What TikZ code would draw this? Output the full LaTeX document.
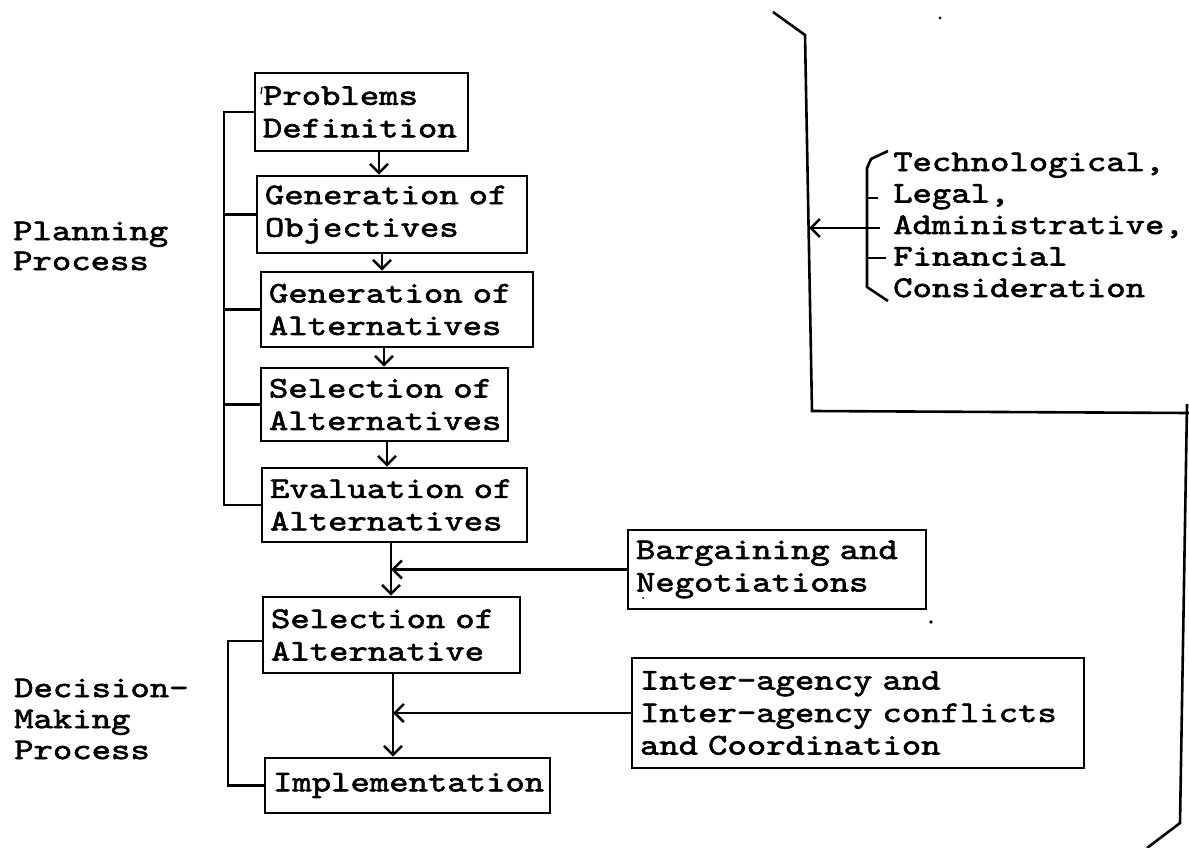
\documentclass[tikz,border=0pt]{standalone}
\usepackage{fontspec}
\setmonofont{lmmono10-regular.otf}[FakeStretch=1.23,FakeBold=2]
\usetikzlibrary{arrows.meta,calc}
\newcommand{\twfont}[1]{\ttfamily\fontsize{30}{#1}\selectfont}
\begin{document}
\begin{tikzpicture}[x=1pt,y=-1pt,
  every node/.style={font=\twfont{32.5}},
  ln/.style={line width=2.6pt},
  box/.style={draw,ln,inner xsep=8pt,inner ysep=0pt,align=left,anchor=center},
  arr/.style={ln,-{Straight Barb[length=9pt,width=18pt,line width=2.6pt]}},
  lbl/.style={inner sep=0pt,align=left,anchor=west}]
\useasboundingbox (0,0) rectangle (1189,848);

% main chain
\node[box,minimum width=213pt,minimum height=78pt,text width=197pt] (b1) at (361.5,112) {Problems\\Definition};
\node[box,minimum width=270pt,minimum height=77pt,text width=254pt] (b2) at (392,214.5) {Generation of\\Objectives};
\node[box,minimum width=272pt,minimum height=75pt,text width=256pt] (b3) at (397,309.5) {Generation of\\Alternatives};
\node[box,minimum width=247pt,minimum height=73pt,text width=231pt] (b4) at (384.5,404.5) {Selection of\\Alternatives};
\node[box,minimum width=265pt,minimum height=74pt,text width=249pt] (b5) at (394.5,505) {Evaluation of\\Alternatives};
\node[box,minimum width=257pt,minimum height=76pt,text width=241pt] (b6) at (391.5,635) {Selection of\\Alternative};
\node[box,minimum width=285pt,minimum height=55pt,text width=269pt] (b7) at (407.5,785.5) {Implementation};

% side boxes
\node[box,minimum width=298pt,minimum height=79pt,text width=282pt] (bar) at (777,569.5) {Bargaining and\\Negotiations};
\node[box,minimum width=452pt,minimum height=110pt,text width=436pt] (int) at (858,713) {Inter-agency and\\Inter-agency conflicts\\and Coordination};

% labels
\node[lbl,font=\twfont{30}] (plan) at (13,246) {Planning\\Process};
\node[lbl,font=\twfont{31}] (dec) at (14,719) {Decision-\\Making\\Process};
\node[lbl,font=\twfont{31.5}] (cons) at (893,225) {Technological,\\Legal,\\Administrative,\\Financial\\Consideration};

% vertical arrows
\coordinate (v12) at (379,0);
\coordinate (v23) at (382,0);
\coordinate (v34) at (384,0);
\coordinate (v45) at (387,0);
\coordinate (v56) at (391,0);
\coordinate (v67) at (393,0);
\draw[arr] (b1.south -| v12) -- (b2.north -| v12);
\draw[arr] (b2.south -| v23) -- (b3.north -| v23);
\draw[arr] (b3.south -| v34) -- (b4.north -| v34);
\draw[arr] (b4.south -| v45) -- (b5.north -| v45);
\draw[arr] (b5.south -| v56) -- (b6.north -| v56);
\draw[ln] (b6.south -| v67) -- (int.west -| v67);
\draw[arr] (int.west -| v67) -- (b7.north -| v67);

% side arrows
\draw[arr] (bar.west) -- (bar.west -| v56);
\draw[arr] (int.west) -- (int.west -| v67);

% planning bracket
\coordinate (pb) at (224,0);
\draw[ln] (b1.west) -- (b1.west -| pb) -- (b5.west -| pb) -- (b5.west);
\foreach \b in {b2,b3,b4} \draw[ln] (\b.west) -- (\b.west -| pb);

% decision bracket
\coordinate (db) at (228,0);
\draw[ln] ([yshift=-6pt]b6.west) -- ([yshift=-6pt]b6.west -| db) -- (b7.west -| db) -- (b7.west);

% big bracket
\draw[ln] (773,12) -- (805,35) -- (812,411) -- (1189,413);
\draw[ln] (1187,404) -- (1180,823) -- (1147,848);

% brace and arrow
\draw[ln] (888,151) -- (871,159) -- (867,168) -- (867,287) -- (888,301);
\draw[ln] (867,198) -- (878,198);
\draw[ln] (867,258) -- (886,258);
\coordinate (brx) at (880,228);
\coordinate (bv) at (809,228);
\draw[arr] (brx) -- (bv);

% specks
\draw[line width=1.2pt] (262,87) -- (261,94);
\fill (940,18) circle (1.5pt);
\fill (931,622) circle (1.8pt);
\fill (643,598) circle (1pt);
\end{tikzpicture}
\end{document}
